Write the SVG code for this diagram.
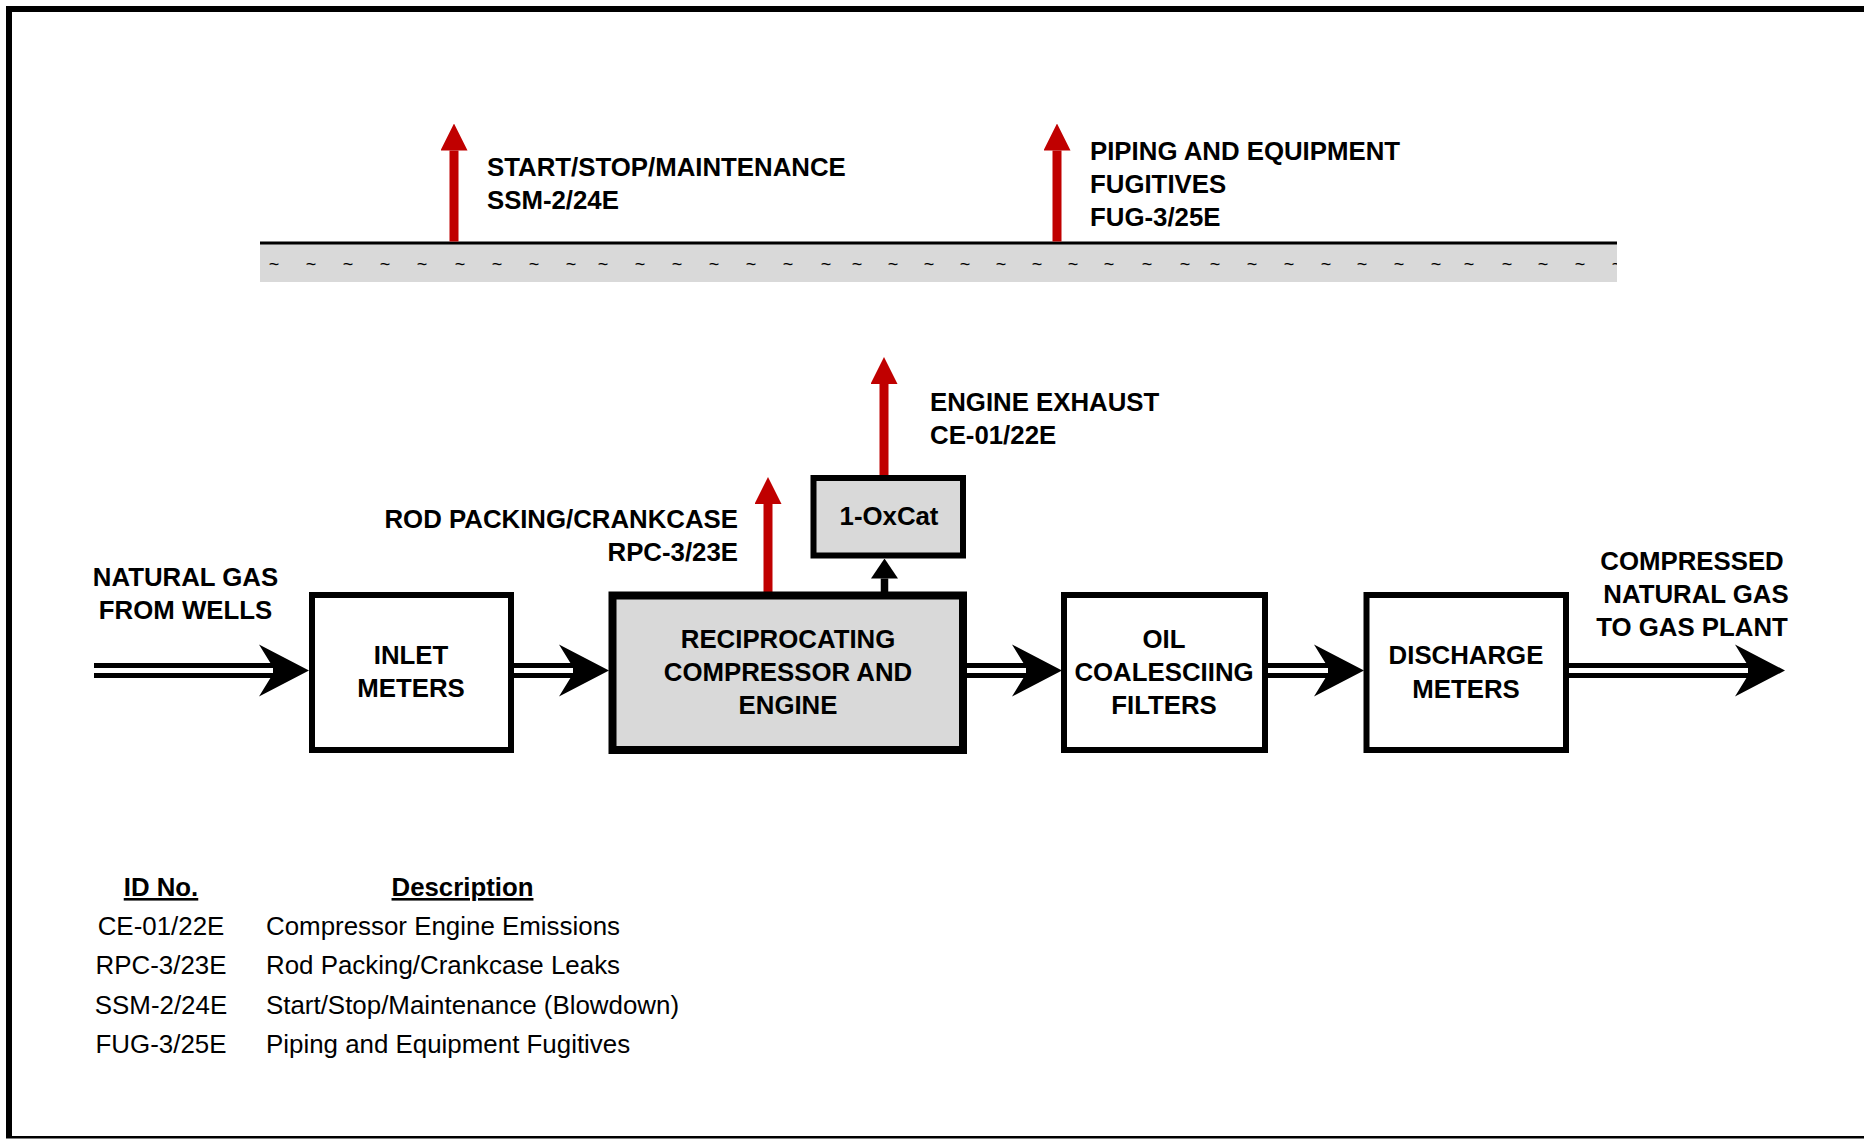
<svg xmlns="http://www.w3.org/2000/svg" width="1864" height="1139" viewBox="0 0 1864 1139">
<style>
.lbl{font-family:"Liberation Sans",Arial,sans-serif;font-size:25.8px;font-weight:bold;fill:#000}
.leg{font-family:"Liberation Sans",Arial,sans-serif;font-size:25.9px;fill:#000}
.hdr{font-family:"Liberation Sans",Arial,sans-serif;font-size:25.8px;font-weight:bold;fill:#000;text-decoration:underline}
.mid{text-anchor:middle}
.end{text-anchor:end}
.box{fill:#fff;stroke:#000;stroke-width:6}
.gray{fill:#d9d9d9}
.red{stroke:#c00000;stroke-width:9;fill:none}
.pipeO{stroke:#000;stroke-width:15;fill:none}
.pipeI{stroke:#fff;stroke-width:5;fill:none}
.tilde{font-family:"Liberation Sans",Arial,sans-serif;font-size:18px;fill:#000;text-anchor:middle}
</style>
<defs>
<marker id="redHead" markerUnits="userSpaceOnUse" markerWidth="27" markerHeight="27" viewBox="0 0 27 27" refX="0" refY="13.5" orient="auto">
<path d="M0,0 L27,13.5 L0,27 Z" fill="#c00000"/>
</marker>
<marker id="blkHead" markerUnits="userSpaceOnUse" markerWidth="20" markerHeight="27" viewBox="0 0 20 27" refX="0" refY="13.5" orient="auto">
<path d="M0,0 L20,13.5 L0,27 Z" fill="#000"/>
</marker>
<path id="dblHead" d="M0,0 L-50,-26 L-34,0 L-50,26 Z" fill="#000"/>
<clipPath id="bandClip"><rect x="260" y="243" width="1357" height="39"/></clipPath>
</defs>

<g id="frame">
<rect x="6" y="6" width="1858" height="6" fill="#000"/>
<rect x="6" y="6" width="6" height="1132" fill="#000"/>
<rect x="6" y="1136" width="1858" height="2.5" fill="#000"/>
</g>

<g id="header-band">
<rect x="260" y="243" width="1357" height="39" fill="#d9d9d9"/>
<line x1="260" y1="243" x2="1617" y2="243" stroke="#000" stroke-width="3"/>
<text class="tilde" clip-path="url(#bandClip)" y="270" x="274 311 348 385 422 460 497 534 571 603 640 677 714 751 788 826 857 893 929 965 1001 1037 1073 1109 1147 1185 1215 1252 1289 1326 1362 1399 1436 1469 1507 1543 1580 1617">~~~~~~~~~~~~~~~~~~~~~~~~~~~~~~~~~~~~~~</text>
</g>

<g id="connectors">
<!-- double-line process flow arrows -->
<line class="pipeO" x1="94" y1="670.5" x2="276" y2="670.5"/>
<line class="pipeI" x1="94" y1="670.5" x2="273" y2="670.5"/>
<use href="#dblHead" x="309" y="670.5"/>
<line class="pipeO" x1="513" y1="670.5" x2="576" y2="670.5"/>
<line class="pipeI" x1="513" y1="670.5" x2="573" y2="670.5"/>
<use href="#dblHead" x="609" y="670.5"/>
<line class="pipeO" x1="966" y1="670.5" x2="1029" y2="670.5"/>
<line class="pipeI" x1="966" y1="670.5" x2="1026" y2="670.5"/>
<use href="#dblHead" x="1062" y="670.5"/>
<line class="pipeO" x1="1267" y1="670.5" x2="1331" y2="670.5"/>
<line class="pipeI" x1="1267" y1="670.5" x2="1328" y2="670.5"/>
<use href="#dblHead" x="1364" y="670.5"/>
<line class="pipeO" x1="1568" y1="670.5" x2="1751" y2="670.5"/>
<line class="pipeI" x1="1568" y1="670.5" x2="1748" y2="670.5"/>
<use href="#dblHead" x="1785" y="670.5"/>
<!-- compressor to oxidation catalyst -->
<line x1="884.5" y1="593" x2="884.5" y2="578.5" stroke="#000" stroke-width="7.5" marker-end="url(#blkHead)"/>
<!-- red emission arrows -->
<line class="red" x1="454" y1="241.5" x2="454" y2="150.5" marker-end="url(#redHead)"/>
<line class="red" x1="1057" y1="241.5" x2="1057" y2="150.5" marker-end="url(#redHead)"/>
<line class="red" x1="884" y1="476" x2="884" y2="384" marker-end="url(#redHead)"/>
<line class="red" x1="768" y1="593" x2="768" y2="504" marker-end="url(#redHead)"/>
</g>

<g id="node-inlet">
<rect class="box" x="312" y="595" width="199" height="155"/>
<text class="lbl mid" x="411" y="664">INLET</text>
<text class="lbl mid" x="411" y="697">METERS</text>
</g>

<g id="node-compressor">
<rect class="box gray" x="612.5" y="595.5" width="350.5" height="154.5" style="stroke-width:8"/>
<text class="lbl mid" x="788" y="648">RECIPROCATING</text>
<text class="lbl mid" x="788" y="681">COMPRESSOR AND</text>
<text class="lbl mid" x="788" y="714">ENGINE</text>
</g>

<g id="node-oxcat">
<rect class="box gray" x="813.5" y="478" width="149.5" height="77.5"/>
<text class="lbl mid" x="889" y="525">1-OxCat</text>
</g>

<g id="node-filters">
<rect class="box" x="1064" y="595" width="201" height="155"/>
<text class="lbl mid" x="1164" y="648">OIL</text>
<text class="lbl mid" x="1164" y="681">COALESCIING</text>
<text class="lbl mid" x="1164" y="714">FILTERS</text>
</g>

<g id="node-discharge">
<rect class="box" x="1366.5" y="595" width="199.5" height="155"/>
<text class="lbl mid" x="1466" y="664">DISCHARGE</text>
<text class="lbl mid" x="1466" y="697.5">METERS</text>
</g>

<g id="labels">
<text class="lbl mid" x="185.5" y="586">NATURAL GAS</text>
<text class="lbl mid" x="185.5" y="619">FROM WELLS</text>
<text class="lbl mid" x="1692" y="570">COMPRESSED</text>
<text class="lbl mid" x="1696" y="603">NATURAL GAS</text>
<text class="lbl mid" x="1692" y="636">TO GAS PLANT</text>
<text class="lbl end" x="738" y="528">ROD PACKING/CRANKCASE</text>
<text class="lbl end" x="738" y="561">RPC-3/23E</text>
<text class="lbl" x="930" y="411">ENGINE EXHAUST</text>
<text class="lbl" x="930" y="444">CE-01/22E</text>
<text class="lbl" x="487" y="175.5">START/STOP/MAINTENANCE</text>
<text class="lbl" x="487" y="209">SSM-2/24E</text>
<text class="lbl" x="1090" y="160">PIPING AND EQUIPMENT</text>
<text class="lbl" x="1090" y="193">FUGITIVES</text>
<text class="lbl" x="1090" y="226">FUG-3/25E</text>
</g>

<g id="legend">
<text class="hdr mid" x="161" y="896">ID No.</text>
<text class="hdr mid" x="462.5" y="896">Description</text>
<text class="leg mid" x="161" y="935">CE-01/22E</text>
<text class="leg" x="266" y="935">Compressor Engine Emissions</text>
<text class="leg mid" x="161" y="974">RPC-3/23E</text>
<text class="leg" x="266" y="974">Rod Packing/Crankcase Leaks</text>
<text class="leg mid" x="161" y="1013.5">SSM-2/24E</text>
<text class="leg" x="266" y="1013.5">Start/Stop/Maintenance (Blowdown)</text>
<text class="leg mid" x="161" y="1053">FUG-3/25E</text>
<text class="leg" x="266" y="1053">Piping and Equipment Fugitives</text>
</g>
</svg>
